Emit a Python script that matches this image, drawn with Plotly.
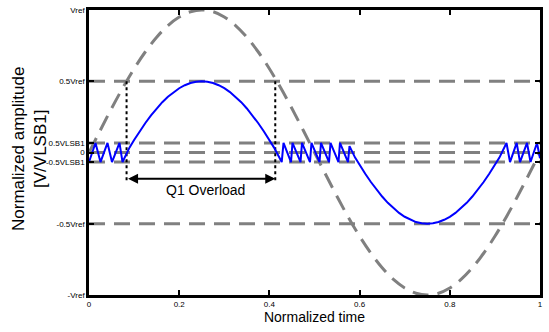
import plotly.graph_objects as go

# ---------------- data ----------------
x_tick_vals = [0, 0.2, 0.4, 0.6, 0.8, 1]
x_tick_text = ["0", "0.2", "0.4", "0.6", "0.8", "1"]
y_tick_vals = [1, 0.5, 0.067, 0, -0.067, -0.5, -1]
y_tick_text = ["Vref", "0.5Vref", "0.5VLSB1", "0", "-0.5VLSB1", "-0.5Vref", "-Vref"]
ref_levels = [0.5, 0.067, 0, -0.067, -0.5]

# gray dashed input sine (x, amplitude)
sine_x = [0, 0.025, 0.05, 0.075, 0.1, 0.125, 0.15, 0.175, 0.2, 0.225, 0.25,
          0.275, 0.3, 0.325, 0.35, 0.375, 0.4, 0.425, 0.45, 0.475, 0.5,
          0.525, 0.55, 0.575, 0.6, 0.625, 0.65, 0.675, 0.7, 0.725, 0.75,
          0.775, 0.8, 0.825, 0.85, 0.875, 0.9, 0.925, 0.95, 0.975, 1.0]
sine_y = [0, 0.156, 0.309, 0.454, 0.588, 0.707, 0.809, 0.891, 0.951, 0.988, 1.0,
          0.988, 0.951, 0.891, 0.809, 0.707, 0.588, 0.454, 0.309, 0.156, 0,
          -0.156, -0.309, -0.454, -0.588, -0.707, -0.809, -0.891, -0.951, -0.988, -1.0,
          -0.988, -0.951, -0.891, -0.809, -0.707, -0.588, -0.454, -0.309, -0.156, 0]

# blue Q1 residue
resid_x = [0, 0.0144, 0.0255, 0.0410, 0.0510, 0.0676, 0.0743,
           0.09, 0.1, 0.1125, 0.125, 0.1375, 0.15, 0.1625, 0.175, 0.1875, 0.2, 0.2125,
           0.225, 0.2375, 0.25, 0.2625, 0.275, 0.2875, 0.3, 0.3125, 0.325, 0.3375, 0.35,
           0.3625, 0.375, 0.3875, 0.4, 0.41, 0.4273,
           0.4313, 0.4479, 0.4512, 0.4690, 0.4723, 0.4900, 0.4933, 0.5111, 0.5144,
           0.5322, 0.5355, 0.5532, 0.5565, 0.5743, 0.5776,
           0.59, 0.6, 0.6125, 0.625, 0.6375, 0.65, 0.6625, 0.675, 0.6875, 0.7, 0.7125,
           0.725, 0.7375, 0.75, 0.7625, 0.775, 0.7875, 0.8, 0.8125, 0.825, 0.8375, 0.85,
           0.8625, 0.875, 0.8875, 0.9, 0.91,
           0.9257, 0.9335, 0.9483, 0.9557, 0.9712, 0.979, 0.9933, 1.0]
resid_y = [-0.067, 0.067, -0.067, 0.067, -0.067, 0.067, -0.067,
           0.036, 0.088, 0.149, 0.207, 0.260, 0.309, 0.353, 0.391, 0.424, 0.451, 0.472,
           0.488, 0.497, 0.5, 0.497, 0.488, 0.472, 0.451, 0.424, 0.391, 0.353, 0.309,
           0.260, 0.207, 0.149, 0.088, 0.036, -0.067,
           0.067, -0.067, 0.067, -0.067, 0.067, -0.067, 0.067, -0.067, 0.067,
           -0.067, 0.067, -0.067, 0.067, -0.067, 0.045,
           -0.036, -0.088, -0.149, -0.207, -0.260, -0.309, -0.353, -0.391, -0.424, -0.451, -0.472,
           -0.488, -0.497, -0.5, -0.497, -0.488, -0.472, -0.451, -0.424, -0.391, -0.353, -0.309,
           -0.260, -0.207, -0.149, -0.088, -0.036,
           0.067, -0.067, 0.067, -0.067, 0.067, -0.067, 0.067, -0.04]

overload_x = [0.0833, 0.413]
overload_top = 0.5
overload_bottom = -0.21
arrow_y = -0.185
label_text = "Q1 Overload"
label_pos = (0.259, -0.262)
y_title = "Normalized amplitude<br>[V/VLSB1]"
x_title = "Normalized time"

FONT = "Liberation Sans, Arial, sans-serif"
GRAY = "rgb(128,128,128)"
DASH = "16px,9px"

fig = go.Figure()

for lv in ref_levels:
    fig.add_trace(go.Scatter(x=[0, 1], y=[lv, lv], mode="lines",
                             line=dict(color=GRAY, width=3, dash=DASH),
                             hoverinfo="skip", showlegend=False))

fig.add_trace(go.Scatter(x=sine_x, y=sine_y, mode="lines",
                         line=dict(color=GRAY, width=3, dash=DASH, shape="spline"),
                         showlegend=False))

for xv in overload_x:
    fig.add_trace(go.Scatter(x=[xv, xv], y=[overload_top, overload_bottom], mode="lines",
                             line=dict(color="black", width=2, dash="dot"),
                             showlegend=False))

fig.add_trace(go.Scatter(x=resid_x, y=resid_y, mode="lines",
                         line=dict(color="rgb(0,0,255)", width=2),
                         showlegend=False))

fig.add_annotation(x=overload_x[1], y=arrow_y, ax=overload_x[0], ay=arrow_y,
                   xref="x", yref="y", axref="x", ayref="y", text="",
                   showarrow=True, arrowhead=2, arrowside="end+start",
                   arrowsize=1, arrowwidth=2, arrowcolor="black",
                   standoff=0, startstandoff=0)
fig.add_annotation(x=label_pos[0], y=label_pos[1], xref="x", yref="y",
                   text=label_text, showarrow=False,
                   font=dict(family=FONT, size=14, color="black"))

# y-axis title placed as rotated text left of the tick labels
fig.add_annotation(x=-0.132, y=0.514, xref="paper", yref="paper",
                   text=y_title, textangle=-90, showarrow=False,
                   xanchor="center", yanchor="middle",
                   font=dict(family=FONT, size=17, color="black"))

axis_common = dict(showline=True, linecolor="black", linewidth=2.5, mirror="ticks",
                   ticks="inside", ticklen=5, tickwidth=2, tickcolor="black",
                   showgrid=False, zeroline=False, automargin=False,
                   tickfont=dict(family=FONT, size=8, color="black"))

fig.update_layout(
    width=549, height=332,
    margin=dict(l=89, r=9, t=10, b=37),
    paper_bgcolor="white", plot_bgcolor="white",
    xaxis=dict(range=[0, 1], tickvals=x_tick_vals, ticktext=x_tick_text,
               title=dict(text=x_title, standoff=0,
                          font=dict(family=FONT, size=14, color="black")),
               **axis_common),
    yaxis=dict(range=[-1, 1], tickvals=y_tick_vals, ticktext=y_tick_text,
               **axis_common),
)

fig.write_html("out.html", config={"displayModeBar": False},
               post_script="document.body.style.margin='0';")
